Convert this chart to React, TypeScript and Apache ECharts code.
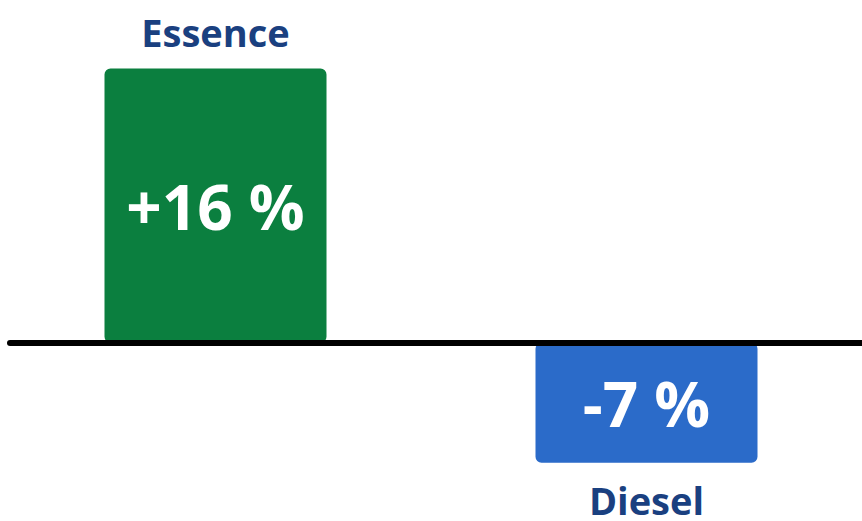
import React, { useEffect, useRef } from "react";
import * as echarts from "echarts";

const categories = ["Essence", "Diesel"];
const values = [16, -7];
const valueLabels = ["+16 %", "-7 %"];
const colors = ["#0b7f3f", "#2b6bc9"];

export default function App() {
  const ref = useRef<HTMLDivElement>(null);
  useEffect(() => {
    const chart = echarts.init(ref.current!, null, { renderer: "svg" });
    const font = "'Open Sans', 'Noto Sans', sans-serif";
    chart.setOption({
      animation: false,
      backgroundColor: "#ffffff",
      grid: [
        { left: -4, right: -4, top: 0, bottom: 0 },
        { left: 10, right: 0, top: 0, bottom: 0 },
      ],
      xAxis: [
        {
          type: "category",
          gridIndex: 0,
          data: categories,
          axisLine: { show: false },
          axisTick: { show: false },
          axisLabel: { show: false },
        },
        {
          type: "category",
          gridIndex: 1,
          data: categories,
          axisLine: { show: true, onZero: true, lineStyle: { color: "#000", width: 6 } },
          axisTick: { show: false },
          axisLabel: { show: false },
          z: 10,
        },
      ],
      yAxis: [
        { type: "value", gridIndex: 0, min: -10.4, max: 20, show: false, splitLine: { show: false } },
        { type: "value", gridIndex: 1, min: -10.4, max: 20, show: false, splitLine: { show: false } },
      ],
      series: [
        {
          type: "bar",
          xAxisIndex: 0,
          yAxisIndex: 0,
          barWidth: 222,
          data: values.map((v, i) => ({
            value: v,
            itemStyle: {
              color: colors[i],
              borderRadius: 6,
            },
            label: {
              show: true,
              position: "inside",
              formatter: valueLabels[i],
              color: "#ffffff",
              fontFamily: font,
              fontWeight: "bold",
              fontSize: 62,
            },
          })),
        },
        {
          type: "bar",
          xAxisIndex: 0,
          yAxisIndex: 0,
          barWidth: 222,
          barGap: "-100%",
          data: values.map((v, i) => ({
            value: v,
            itemStyle: { color: "transparent" },
            label: {
              show: true,
              position: v >= 0 ? "top" : "bottom",
              distance: 22,
              formatter: categories[i],
              color: "#1a4080",
              fontFamily: font,
              fontWeight: "bold",
              fontSize: 38,
              lineHeight: 30,
            },
          })),
        },
      ],
    });
    return () => chart.dispose();
  }, []);
  return <div ref={ref} style={{ width: 862, height: 521, position: "absolute", left: 0, top: 0 }} />;
}
